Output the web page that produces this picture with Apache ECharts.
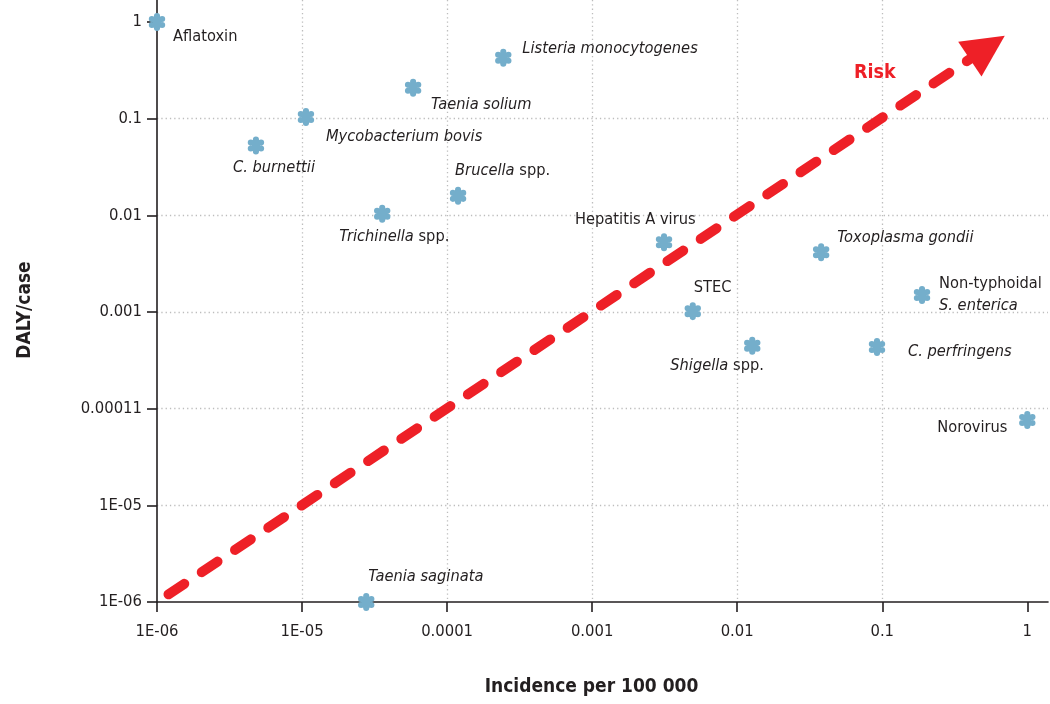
<!DOCTYPE html>
<html>
<head>
<meta charset="utf-8">
<script src="https://cdn.jsdelivr.net/npm/echarts@6/dist/echarts.min.js"></script>
<style>
html,body{margin:0;padding:0;background:#fff;}
#main{width:1050px;height:704px;}
</style>
</head>
<body>
<div id="main"></div>
<script>
// ---- data ----
const pathogens = ['Aflatoxin','Listeria monocytogenes','Taenia solium','Mycobacterium bovis','C. burnettii',
  'Brucella spp.','Trichinella spp.','Hepatitis A virus','Toxoplasma gondii','Non-typhoidal S. enterica',
  'STEC','Shigella spp.','C. perfringens','Norovirus','Taenia saginata'];
const labelTexts = ['Aflatoxin','{i|Listeria monocytogenes}','{i|Taenia solium}','{i|Mycobacterium bovis}','{i|C. burnettii}',
  '{i|Brucella} spp.','{i|Trichinella} spp.','Hepatitis A virus','{i|Toxoplasma gondii}','Non-typhoidal\n{i|S. enterica}',
  'STEC','{i|Shigella} spp.','{i|C. perfringens}','Norovirus','{i|Taenia saginata}'];
const incidence = [1e-6, 2.44e-4, 5.83e-5, 1.064e-5, 4.81e-6,
  1.19e-4, 3.57e-5, 3.13e-3, 0.0379, 0.188,
  4.94e-3, 0.0127, 0.092, 1.0, 2.77e-5];
const dalyPerCase = [1, 0.427, 0.209, 0.104, 0.0527,
  0.0159, 0.0104, 0.00527, 0.00415, 0.0015,
  0.00102, 0.000448, 0.000434, 0.0000762, 1e-6];
const xTickValues = [1e-6, 1e-5, 1e-4, 1e-3, 1e-2, 1e-1, 1];
const xTickLabels = ['1E-06','1E-05','0.0001','0.001','0.01','0.1','1'];
const yTickValues = [1e-6, 1e-5, 1e-4, 1e-3, 1e-2, 1e-1, 1];
const yTickLabels = ['1E-06','1E-05','0.00011','0.001','0.01','0.1','1'];
const riskStart = [1.2e-6, 1.2e-6];
const riskEnd = [0.53, 0.545];
const riskLabelAt = [0.089, 0.2965];

// ---- layout (label offsets in px, relative to point) ----
const labelOffsets = [[16,15],[19,-9],[18,17],[20,20],[-23,22],
  [-3,-25],[-43,23],[-89,-22],[16,-14],[17,0],
  [1,-23],[-82,20],[31,4.5],[-90,7.5],[2,-25]];

const FONT = "'DejaVu Sans Condensed','Liberation Sans Narrow','Arial Narrow',sans-serif";
const TXT = '#231f20';
const BLUE = '#74aecb';
const RED = '#ee2027';
const LABEL_SIZE = 16.3;

function flowerPath(){
  // six lobes + centre, union by nonzero fill
  const c = 50, rc = 22, d = 31, r = 16;
  let p = '';
  const circ = (x,y,rr)=> 'M'+(x+rr)+' '+y+' A'+rr+' '+rr+' 0 1 0 '+(x-rr)+' '+y+' A'+rr+' '+rr+' 0 1 0 '+(x+rr)+' '+y+' Z ';
  p += circ(c,c,rc);
  for(let k=0;k<6;k++){
    const a = (90 + 60*k) * Math.PI/180;
    p += circ(c + d*Math.cos(a), c - d*Math.sin(a), r);
  }
  return 'path://' + p;
}
const SYM = flowerPath();

function tickFormatter(labels){
  return function(v){
    const l = Math.log10(v);
    const i = Math.round(l);
    if (Math.abs(l - i) > 1e-6) return '';
    return labels[i + 6] != null ? labels[i + 6] : '';
  };
}

const richI = { fontStyle:'italic', fontFamily:FONT, fontSize:LABEL_SIZE, color:TXT, lineHeight:21.5 };

const points = pathogens.map((name, k) => ({
  name: name,
  value: [incidence[k], dalyPerCase[k]],
  label: {
    show: true,
    position: 'inside',
    align: 'left',
    verticalAlign: 'middle',
    offset: labelOffsets[k],
    formatter: labelTexts[k]
  }
}));

const option = {
  animation: false,
  backgroundColor: '#ffffff',
  grid: { left: 157, right: 2, top: 0, bottom: 102, containLabel: false },
  xAxis: {
    type: 'log', logBase: 10, min: 1e-6, max: 1.389,
    name: 'Incidence per 100 000', nameLocation: 'middle', nameGap: 76,
    nameTextStyle: { fontFamily: FONT, fontSize: 19, fontWeight: 'bold', color: TXT, padding: [0, 22, 0, 0] },
    axisLine: { show: true, lineStyle: { color: TXT, width: 1.6 } },
    axisTick: { show: true, length: 10, customValues: xTickValues, lineStyle: { color: TXT, width: 1.6 } },
    axisLabel: { customValues: xTickValues, formatter: tickFormatter(xTickLabels), margin: 21,
      fontFamily: FONT, fontSize: 16.5, color: TXT },
    splitLine: { show: true, showMinLine: false, showMaxLine: false,
      lineStyle: { color: '#bdbdbd', width: 1.3, type: [1.3, 3] } },
    minorTick: { show: false }, minorSplitLine: { show: false }
  },
  yAxis: {
    type: 'log', logBase: 10, min: 1e-6, max: 1.689,
    name: 'DALY/case', nameLocation: 'middle', nameGap: 122, nameRotate: 90,
    nameTextStyle: { fontFamily: FONT, fontSize: 19, fontWeight: 'bold', color: TXT, padding: [0, 18, 0, 0] },
    axisLine: { show: true, lineStyle: { color: TXT, width: 1.6 } },
    axisTick: { show: true, length: 10, customValues: yTickValues, lineStyle: { color: TXT, width: 1.6 } },
    axisLabel: { customValues: yTickValues, formatter: tickFormatter(yTickLabels), margin: 15,
      fontFamily: FONT, fontSize: 16.5, color: TXT },
    splitLine: { show: true, showMinLine: false, showMaxLine: false,
      lineStyle: { color: '#bdbdbd', width: 1.3, type: [1.3, 3] } },
    minorTick: { show: false }, minorSplitLine: { show: false }
  },
  series: [
    {
      name: 'risk',
      type: 'scatter',
      data: [{ value: riskLabelAt }],
      symbol: 'circle',
      symbolSize: 1,
      itemStyle: { color: 'rgba(0,0,0,0)', opacity: 1 },
      silent: true,
      z: 3,
      label: { show: true, formatter: 'Risk', position: 'inside', fontFamily: FONT, fontSize: 19.5, fontWeight: 'bold', color: RED, opacity: 1 },
      markLine: {
        silent: true,
        animation: false,
        symbol: ['none', 'triangle'],
        symbolSize: 42,
        label: { show: false },
        emphasis: { disabled: true },
        lineStyle: { color: RED, width: 10, type: [19, 21], cap: 'round', opacity: 1 },
        data: [[ { coord: riskStart }, { coord: riskEnd } ]]
      }
    },
    {
      name: 'pathogens',
      type: 'scatter',
      data: points,
      symbol: SYM,
      symbolKeepAspect: true,
      symbolSize: 18,
      itemStyle: { color: BLUE, opacity: 1 },
      z: 4,
      label: {
        fontFamily: FONT, fontSize: LABEL_SIZE, color: TXT, lineHeight: 21.5,
        rich: { i: richI }
      },
      emphasis: { disabled: true }
    }
  ]
};

const chart = echarts.init(document.getElementById('main'), null, { renderer: 'canvas' });
chart.setOption(option);
</script>
</body>
</html>
